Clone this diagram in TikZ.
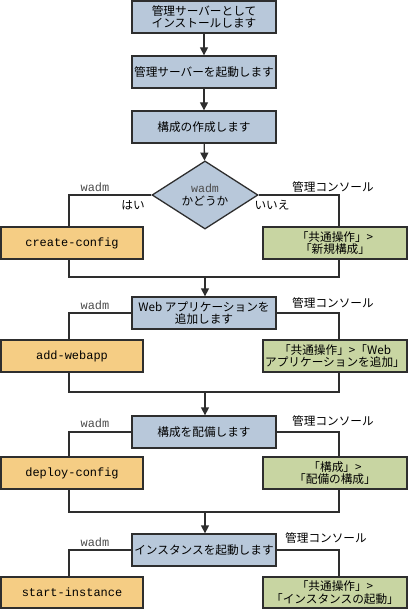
\documentclass[tikz,border=0pt]{standalone}
\usepackage{fontspec}
\setmainfont{Noto Sans CJK JP}
\setmonofont{Liberation Mono}
\usepackage{xcolor}
\usepackage{tikz}
\usetikzlibrary{shapes.geometric}
\usetikzlibrary{arrows.meta}
\definecolor{stepblue}{HTML}{B8C8DA}
\definecolor{cmdorange}{HTML}{F5CD84}
\definecolor{guigreen}{HTML}{C8D5A2}
\definecolor{edgegray}{HTML}{2E2E2E}
\tikzset{
  stepbox/.style={draw=edgegray, line width=1.3bp, fill=stepblue, minimum width=144bp,
    minimum height=32bp, inner sep=2bp, align=center, font=\fontsize{11.7}{12.5}\selectfont},
  cmdbox/.style={stepbox, fill=cmdorange, minimum width=142bp, font=\fontsize{12}{13}\selectfont\ttfamily},
  guibox/.style={stepbox, fill=guigreen},
  diabox/.style={diamond, draw=edgegray, line width=1.3bp, fill=stepblue, minimum width=106bp,
    minimum height=57bp, inner sep=0pt, align=center, font=\fontsize{11.7}{12.5}\selectfont},
  flow/.style={draw=edgegray, line width=1.3bp},
  flowarrow/.style={flow, -{Triangle[width=8bp,length=8bp]}},
  lbl/.style={inner sep=0pt, font=\fontsize{11.7}{12.5}\selectfont},
  cmdlbl/.style={inner sep=0pt, text=black!70, font=\fontsize{12}{13}\selectfont\ttfamily}
}

\begin{document}
\begin{tikzpicture}[x=1bp,y=-1bp]
        \useasboundingbox (0,0) rectangle (410,609);

        % Main steps
        \node[stepbox] (inst) at (204,17) {管理サーバーとして\\インストールします};
        \node[stepbox] (start) at (204,72) {管理サーバーを起動します};
        \node[stepbox] (mkconf) at (204,127) {構成の作成します};
        \node[diabox] (ask) at (205,195) {\textcolor{black!70}{\texttt{wadm}}\\かどうか};
        \draw[flowarrow] (inst) -- (start);
        \draw[flowarrow] (start) -- (mkconf);
        \draw[flowarrow] (mkconf) -- (ask);

        % Create configuration
        \node[cmdbox] (cconf) at (72,243) {create-config};
        \node[guibox] (gconf) at (335,243) {「共通操作」>\\「新規構成」};
        \node[cmdlbl] (w1) at (95,187) {wadm};
        \node[lbl] (c1) at (333,187) {管理コンソール};
        \node[lbl] (yes) at (133,205) {はい};
        \node[lbl] (no) at (272,205) {いいえ};
        \coordinate (j1) at (205,277);
        \draw[flow] (ask.west) -| ([xshift=-3bp]cconf.north);
        \draw[flow] (ask.east) -| ([xshift=4bp]gconf.north);
        \draw[flow] ([xshift=-3bp]cconf.south) |- (j1) -| ([xshift=4bp]gconf.south);

        % Add web application
        \node[stepbox] (web) at (204,313) {Web アプリケーションを\\追加します};
        \node[cmdbox] (aweb) at (72,356) {add-webapp};
        \node[guibox] (gweb) at (335,356) {「共通操作」>「Web\\アプリケーションを追加」};
        \node[cmdlbl] (w2) at (95,305) {wadm};
        \node[lbl] (c2) at (333,303) {管理コンソール};
        \coordinate (j2) at (205,392);
        \draw[flowarrow] (j1) -- (j1 |- web.north);
        \draw[flow] (web.west) -| ([xshift=-3bp]aweb.north);
        \draw[flow] (web.east) -| ([xshift=4bp]gweb.north);
        \draw[flow] ([xshift=-3bp]aweb.south) |- (j2) -| ([xshift=4bp]gweb.south);

        % Deploy configuration
        \node[stepbox] (dep) at (204,432) {構成を配備します};
        \node[cmdbox] (dconf) at (72,473) {deploy-config};
        \node[guibox] (gdep) at (335,473) {「構成」>\\「配備の構成」};
        \node[cmdlbl] (w3) at (95,423) {wadm};
        \node[lbl] (c3) at (333,421) {管理コンソール};
        \coordinate (j3) at (205,512);
        \draw[flowarrow] (j2) -- (j2 |- dep.north);
        \draw[flow] (dep.west) -| ([xshift=-3bp]dconf.north);
        \draw[flow] (dep.east) -| ([xshift=4bp]gdep.north);
        \draw[flow] ([xshift=-3bp]dconf.south) |- (j3) -| ([xshift=4bp]gdep.south);

        % Start instance
        \node[stepbox] (runi) at (204,550) {インスタンスを起動します};
        \node[cmdbox, minimum height=31bp] (sinst) at (72,592.5) {start-instance};
        \node[guibox, minimum height=31bp] (ginst) at (335,592.5) {「共通操作」>\\「インスタンスの起動」};
        \node[cmdlbl] (w4) at (95,542) {wadm};
        \node[lbl] (c4) at (326,538) {管理コンソール};
        \draw[flowarrow] (j3) -- (j3 |- runi.north);
        \draw[flow] (runi.west) -| ([xshift=-3bp]sinst.north);
        \draw[flow] (runi.east) -| ([xshift=4bp]ginst.north);
\end{tikzpicture}
\end{document}
